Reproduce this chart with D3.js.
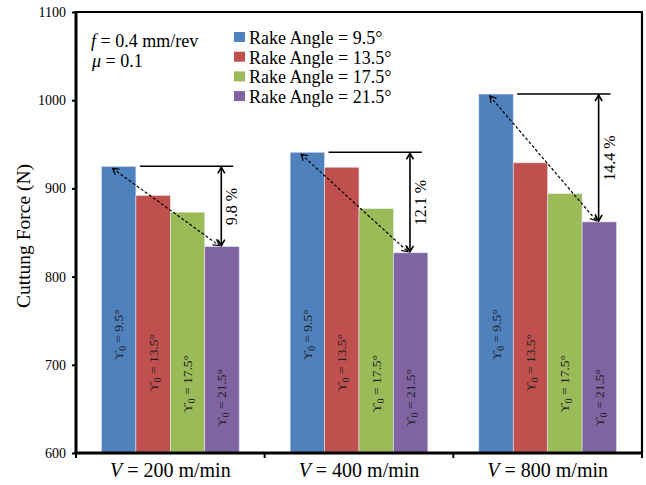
<!DOCTYPE html>
<html>
<head>
<meta charset="utf-8">
<script src="https://cdn.jsdelivr.net/npm/d3@7"></script>
<style>
  html, body { margin: 0; padding: 0; background: #fff; }
  svg { display: block; font-family: "Liberation Serif", "Times New Roman", serif; }
</style>
</head>
<body>
<svg id="chart" width="646" height="485" font-family="Liberation Serif, serif"></svg>
<script>
// Cutting speeds (groups along the x axis)
const speeds = ["200", "400", "800"];
// Rake angles (one bar per angle within each speed group)
const rakeAngles = ["9.5", "13.5", "17.5", "21.5"];
const seriesColors = ["#4F81BD", "#C0504D", "#9BBB59", "#8064A2"];
// Cutting force (N) per rake angle, one value per speed
const force95  = [925, 941, 1007];
const force135 = [892, 924, 929];
const force175 = [873, 877, 894];
const force215 = [834, 827, 862];
const forces = [force95, force135, force175, force215];
// Y axis ticks
const yTicks = [600, 700, 800, 900, 1000, 1100];

const svg = d3.select("#chart");
const plotLeft = 76, plotRight = 642, plotTop = 12, plotBottom = 453;
const serif = "Liberation Serif, serif";

const y = d3.scaleLinear().domain([600, 1100]).range([plotBottom, plotTop]);
const x0 = d3.scaleBand().domain(speeds).range([plotLeft, plotRight])
  .paddingInner(0.27).paddingOuter(0.135);
const x1 = d3.scaleBand().domain(rakeAngles).range([0, x0.bandwidth()]);

// arrow markers
const defs = svg.append("defs");
function chevron(id, w) {
  defs.append("marker").attr("id", id)
    .attr("viewBox", "-8 -5 10 10").attr("refX", 0).attr("refY", 0)
    .attr("markerWidth", 10).attr("markerHeight", 10)
    .attr("markerUnits", "userSpaceOnUse")
    .attr("orient", "auto-start-reverse")
    .append("path").attr("d", "M-6,-3.5 L0,0 L-6,3.5")
    .attr("fill", "none").attr("stroke", "#000").attr("stroke-width", w);
}
chevron("head", 1.6);
chevron("headThin", 1.2);

// bars
const bars = svg.append("g");
speeds.forEach((s, gi) => {
  rakeAngles.forEach((a, si) => {
    const v = forces[si][gi];
    bars.append("rect")
      .attr("x", x0(s) + x1(a))
      .attr("y", y(v))
      .attr("width", x1.bandwidth())
      .attr("height", y(600) - y(v))
      .attr("fill", seriesColors[si])
      .attr("stroke", "#dfe6ef").attr("stroke-width", 0.6);
  });
});

// rotated labels inside bars
const labelCenters = [335, 363, 384, 398];
speeds.forEach((s, gi) => {
  rakeAngles.forEach((a, si) => {
    const cx = x0(s) + x1(a) + x1.bandwidth() / 2 + 4.5;
    const t = svg.append("text")
      .attr("transform", `translate(${cx},${labelCenters[si]}) rotate(-90)`)
      .attr("text-anchor", "middle")
      .attr("font-size", 13.5).attr("fill", "#222");
    t.append("tspan").text("\u03D2");
    t.append("tspan").attr("font-size", 9.5).attr("dy", 3).text("0");
    t.append("tspan").attr("dy", -3).text(" = " + a + "\u00B0");
  });
});

// reduction annotations
const ann = svg.append("g");
speeds.forEach((s, gi) => {
  const hi = forces[0][gi], lo = forces[3][gi];
  const bx = x0(s) + x1(rakeAngles[0]);
  const px = x0(s) + x1(rakeAngles[3]);
  const bw = x1.bandwidth();
  const arrowX = px + bw * 0.48;
  // reference line at the highest bar
  ann.append("line")
    .attr("x1", bx + bw + 4).attr("x2", px + bw - 6)
    .attr("y1", y(hi)).attr("y2", y(hi))
    .attr("stroke", "#000").attr("stroke-width", 1.5);
  // double arrow spanning the reduction
  ann.append("line")
    .attr("x1", arrowX).attr("x2", arrowX)
    .attr("y1", y(hi) + 1).attr("y2", y(lo) - 1)
    .attr("stroke", "#000").attr("stroke-width", 1.6)
    .attr("marker-start", "url(#head)").attr("marker-end", "url(#head)");
  // dashed trend arrow from highest to lowest bar
  ann.append("line")
    .attr("x1", bx + bw * 0.32).attr("y1", y(hi) + 2)
    .attr("x2", arrowX - 2).attr("y2", y(lo) - 1)
    .attr("stroke", "#000").attr("stroke-width", 1.2)
    .attr("stroke-dasharray", "3,2")
    .attr("marker-start", "url(#headThin)").attr("marker-end", "url(#headThin)");
  const pct = ((hi - lo) / hi * 100).toFixed(1) + " %";
  const my = (y(hi) + y(lo)) / 2;
  ann.append("text")
    .attr("transform", `translate(${arrowX + 16},${my}) rotate(-90)`)
    .attr("text-anchor", "middle")
    .attr("font-size", 16).attr("fill", "#000")
    .text(pct);
});

// frame
svg.append("line").attr("x1", plotLeft).attr("x2", plotRight + 1).attr("y1", plotTop).attr("y2", plotTop)
  .attr("stroke", "#000").attr("stroke-width", 2);
svg.append("line").attr("x1", plotRight).attr("x2", plotRight).attr("y1", plotTop).attr("y2", plotBottom)
  .attr("stroke", "#000").attr("stroke-width", 2.2);

// y axis
const yAxis = svg.append("g").attr("transform", `translate(${plotLeft},0)`)
  .call(d3.axisLeft(y).tickValues(yTicks).tickFormat(d3.format("d")).tickSize(4).tickPadding(6));
yAxis.attr("font-family", serif);
yAxis.select(".domain").attr("stroke-width", 3).attr("d", `M0,${plotTop - 1}V${plotBottom + 1}`);
yAxis.selectAll(".tick line").attr("stroke-width", 2);
yAxis.selectAll("text").attr("font-size", 14).attr("fill", "#000");

// x axis with ticks at group boundaries
const xAxis = svg.append("g").attr("transform", `translate(0,${plotBottom})`);
xAxis.append("line").attr("x1", plotLeft - 1.5).attr("x2", plotRight + 1)
  .attr("stroke", "#000").attr("stroke-width", 3);
const bounds = speeds.map(s => x0(s) - x0.step() * x0.paddingInner() / 2).concat([plotRight]);
bounds.forEach(bx => {
  xAxis.append("line").attr("x1", bx).attr("x2", bx).attr("y1", 0).attr("y2", 5)
    .attr("stroke", "#000").attr("stroke-width", 2);
});
speeds.forEach(s => {
  const t = svg.append("text")
    .attr("x", x0(s) + x0.bandwidth() / 2).attr("y", 477)
    .attr("text-anchor", "middle").attr("font-size", 20).attr("fill", "#000");
  t.append("tspan").attr("font-style", "italic").text("V");
  t.append("tspan").text(" = " + s + " m/min");
});

// y axis title
svg.append("text")
  .attr("transform", "translate(30,236) rotate(-90)")
  .attr("text-anchor", "middle").attr("font-size", 19.5).attr("fill", "#000")
  .text("Cuttung Force (N)");

// process conditions
const cond = svg.append("g").attr("font-size", 18).attr("fill", "#000");
const c1 = cond.append("text").attr("x", 91).attr("y", 47);
c1.append("tspan").attr("font-style", "italic").text("f");
c1.append("tspan").text(" = 0.4 mm/rev");
const c2 = cond.append("text").attr("x", 92).attr("y", 67);
c2.append("tspan").attr("font-style", "italic").text("\u03BC");
c2.append("tspan").text(" = 0.1");

// legend
const legend = svg.append("g").attr("transform", "translate(234,44)");
rakeAngles.forEach((a, i) => {
  const row = legend.append("g").attr("transform", `translate(0,${i * 19.7})`);
  row.append("rect").attr("x", 0).attr("y", -12).attr("width", 11).attr("height", 10)
    .attr("fill", seriesColors[i]);
  row.append("text").attr("x", 15).attr("y", 0).attr("font-size", 18).attr("fill", "#000")
    .text("Rake Angle = " + a + "\u00B0");
});
</script>
</body>
</html>
